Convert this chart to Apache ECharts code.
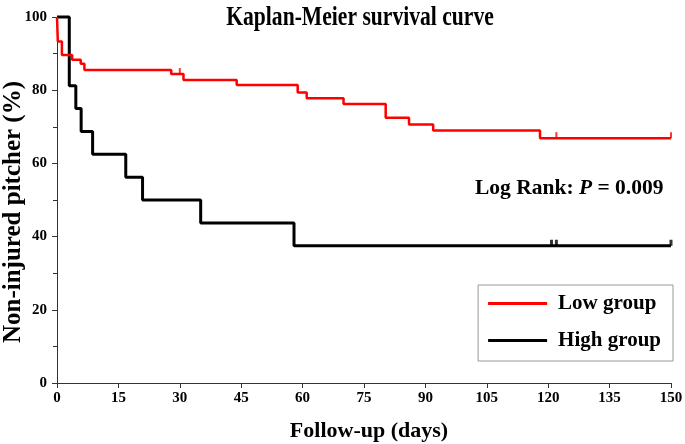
<!DOCTYPE html>
<html>
<head>
<meta charset="utf-8">
<script src="https://cdn.jsdelivr.net/npm/echarts@6/dist/echarts.min.js"></script>
<style>html,body{margin:0;padding:0;background:#fff}#c{width:685px;height:444px}</style>
</head>
<body>
<div id="c"></div>
<script>
// Low group (red)
const lowTimes = [0, 0.2, 1.2, 3.7, 5.8, 6.7, 27.9, 30.9, 43.9, 58.8, 61.0, 70.0, 80.3, 86.0, 91.9, 118.0, 150];
const lowSurv  = [100, 93.3, 89.6, 88.3, 87.2, 85.5, 84.4, 82.8, 81.4, 79.4, 77.8, 76.2, 72.5, 70.6, 69.0, 66.9, 66.9];
const lowCensorTimes = [30.0, 122.0, 150];
const lowCensorSurv  = [84.4, 66.9, 66.9];
// High group (black)
const highTimes = [0, 3.0, 4.6, 5.9, 8.7, 16.8, 20.9, 35.1, 57.9, 150];
const highSurv  = [100, 81.25, 75, 68.75, 62.5, 56.25, 50, 43.75, 37.5, 37.5];
const highCensorTimes = [120.8, 122.0, 150];
const highCensorSurv  = [37.5, 37.5, 37.5];

const xTicks = [0, 15, 30, 45, 60, 75, 90, 105, 120, 135, 150];
const yTicks = [0, 20, 40, 60, 80, 100];

const zip = (a, b) => a.map((v, i) => [v, b[i]]);
const FONT = '"Liberation Serif", "Times New Roman", serif';

const chart = echarts.init(document.getElementById('c'), null, {renderer: 'canvas'});
chart.setOption({
  animation: false,
  backgroundColor: '#fff',
  grid: {left: 57, right: 14, top: 17, bottom: 61, containLabel: false, outerBoundsMode: 'none'},
  legend: {
    data: ['Low group', 'High group'],
    orient: 'vertical',
    right: 12, top: 285,
    borderColor: '#999', borderWidth: 1,
    padding: [8, 12, 10, 10],
    itemWidth: 59, itemHeight: 3, itemGap: 16,
    icon: 'rect',
    textStyle: {fontFamily: FONT, fontWeight: 'bold', fontSize: 21, color: '#000', padding: [0,0,0,6]}
  },
  xAxis: {
    type: 'value', min: 0, max: 150, interval: 15,
    name: 'Follow-up (days)', nameLocation: 'middle', nameGap: 37,
    nameTextStyle: {fontFamily: FONT, fontWeight: 'bold', fontSize: 22, color: '#000', padding: [0,0,0,10]},
    axisLine: {lineStyle: {color: '#333', width: 1}},
    axisTick: {show: true, length: 5, lineStyle: {color: '#333'}},
    axisLabel: {fontFamily: FONT, fontWeight: 'bold', fontSize: 15, color: '#000', margin: 8,
      formatter: v => xTicks.includes(v) ? String(v) : ''},
    splitLine: {show: false}
  },
  yAxis: {
    type: 'value', min: 0, max: 100, interval: 20,
    axisLine: {show: true, lineStyle: {color: '#333', width: 1}},
    axisTick: {show: true, length: 5, lineStyle: {color: '#333'}},
    minorTick: {show: true, splitNumber: 2, length: 4, lineStyle: {color: '#333'}},
    axisLabel: {fontFamily: FONT, fontWeight: 'bold', fontSize: 15, color: '#000', margin: 10,
      formatter: v => yTicks.includes(v) ? String(v) : ''},
    splitLine: {show: false}
  },
  series: [
    {name: 'Low group', type: 'line', step: 'end', data: zip(lowTimes, lowSurv),
      showSymbol: false, clip: false, color: '#ff0000',
      lineStyle: {color: '#ff0000', width: 2.5}, z: 3},
    {name: 'High group', type: 'line', step: 'end', data: zip(highTimes, highSurv),
      showSymbol: false, clip: false, color: '#000',
      lineStyle: {color: '#000', width: 3}, z: 2},
    {name: 'Low censored', type: 'scatter', data: zip(lowCensorTimes, lowCensorSurv),
      symbol: 'rect', symbolSize: [2, 6], symbolOffset: [0, -3], itemStyle: {color: '#ff0000'}, z: 4},
    {name: 'High censored', type: 'scatter', data: zip(highCensorTimes, highCensorSurv),
      symbol: 'rect', symbolSize: [3, 6], symbolOffset: [0, -3], itemStyle: {color: '#000'}, z: 4}
  ],
  graphic: [{
    type: 'text', x: 360, y: 5, scaleX: 0.8,
    style: {
      text: 'Kaplan-Meier survival curve', textAlign: 'center', textVerticalAlign: 'top',
      fontFamily: FONT, fontWeight: 'bold', fontSize: 27, fill: '#000'
    }
  }, {
    type: 'text', x: 14, y: 212, rotation: Math.PI / 2,
    style: {
      text: 'Non-injured pitcher (%)', textAlign: 'center', textVerticalAlign: 'middle',
      fontFamily: FONT, fontWeight: 'bold', fontSize: 25, fill: '#000'
    }
  }, {
    type: 'text', left: 475, top: 177,
    style: {
      text: '{a|Log Rank: }{p|P}{a| = 0.009}',
      rich: {
        a: {fontFamily: FONT, fontWeight: 'bold', fontSize: 21.5, fill: '#000'},
        p: {fontFamily: FONT, fontWeight: 'bold', fontStyle: 'italic', fontSize: 21.5, fill: '#000'}
      }
    }
  }]
});
</script>
</body>
</html>
